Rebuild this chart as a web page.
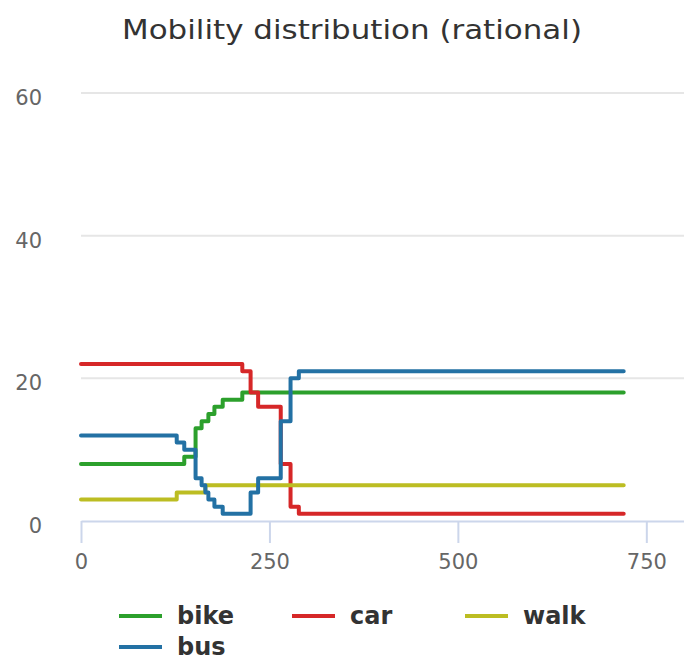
<!DOCTYPE html>
<html>
<head>
<meta charset="utf-8">
<script src="https://cdn.jsdelivr.net/npm/d3@7"></script>
<style>
  body { margin: 0; background: #fff; }
  svg { display: block; font-family: "DejaVu Sans", sans-serif; }
</style>
</head>
<body>
<div class="display"></div>
<script>
// series, drawn in this order (bus ends up on top)
const seriesNames = ["bike", "car", "walk", "bus"];
const seriesColors = ["#2ca02c", "#d62728", "#bcbd22", "#2371a4"];

// step points: time where the count changes, and the new count
const bikeTime = [0, 137, 152, 160, 169, 177, 188, 214, 720];
const bikeCount = [8, 9, 13, 14, 15, 16, 17, 18, 18];
const carTime = [0, 214, 225, 235, 265, 278, 289, 720];
const carCount = [22, 21, 18, 16, 8, 2, 1, 1];
const walkTime = [0, 127, 165, 720];
const walkCount = [3, 4, 5, 5];
const busTime = [0, 127, 137, 152, 160, 165, 169, 177, 188, 225, 235, 265, 278, 289, 720];
const busCount = [12, 11, 10, 6, 5, 4, 3, 2, 1, 4, 6, 14, 20, 21, 21];

const xTicks = [0, 250, 500, 750];
const yTicks = [0, 20, 40, 60];
const title = "Mobility distribution (rational)";

class StepChart {
  constructor(series) {
    this.series = series;
    this.sizes = {
      width: 684,
      height: 655,
      margin: { top: 93, right: 0, bottom: 134, left: 81 }
    };
    this.render();
  }

  render() {
    this.drawCanvas()
      .createScale()
      .addGrid()
      .addAxis()
      .addLines()
      .addTitle()
      .addLegend();
  }

  drawCanvas() {
    const { width, height } = this.sizes;
    this.svg = d3
      .select(".display")
      .append("svg")
      .attr("width", width)
      .attr("height", height);
    return this;
  }

  createScale() {
    const { width, height, margin } = this.sizes;
    this.xScale = d3
      .scaleLinear()
      .domain([0, 800])
      .range([margin.left, width - margin.right]);
    this.yScale = d3
      .scaleLinear()
      .domain([0, 60])
      .range([height - margin.bottom, margin.top]);
    return this;
  }

  addGrid() {
    const { width, margin } = this.sizes;
    this.svg
      .append("g")
      .attr("class", "grid")
      .selectAll("line")
      .data(yTicks.filter(d => d > 0))
      .join("line")
      .attr("x1", margin.left)
      .attr("x2", width)
      .attr("y1", d => this.yScale(d))
      .attr("y2", d => this.yScale(d))
      .attr("stroke", "#e6e6e6")
      .attr("stroke-width", 2);
    return this;
  }

  addAxis() {
    const { height, margin } = this.sizes;
    const xAxis = d3
      .axisBottom(this.xScale)
      .tickValues(xTicks)
      .tickSize(22)
      .tickSizeOuter(0)
      .tickPadding(11);

    const xg = this.svg
      .append("g")
      .attr("id", "x-axis")
      .attr("transform", `translate(0, ${height - margin.bottom})`)
      .call(xAxis);
    xg.selectAll("path, line").attr("stroke", "#ccd6eb").attr("stroke-width", 2);
    xg.selectAll("text")
      .attr("fill", "#666")
      .style("font-size", "21px")
      .style("font-family", "DejaVu Sans, sans-serif");

    // y labels only, no axis line
    this.svg
      .append("g")
      .attr("id", "y-axis")
      .selectAll("text")
      .data(yTicks)
      .join("text")
      .attr("x", 42)
      .attr("y", d => this.yScale(d) + 6)
      .attr("text-anchor", "end")
      .attr("dominant-baseline", "middle")
      .attr("fill", "#666")
      .style("font-size", "21px")
      .text(d => d);
    return this;
  }

  addLines() {
    const line = d3
      .line()
      .curve(d3.curveStepAfter)
      .x(d => this.xScale(d.t))
      .y(d => this.yScale(d.v));

    this.svg
      .append("g")
      .attr("class", "lines")
      .selectAll("path")
      .data(this.series)
      .join("path")
      .attr("d", s => line(s.values))
      .attr("fill", "none")
      .attr("stroke", s => s.color)
      .attr("stroke-width", 4)
      .attr("stroke-linejoin", "round")
      .attr("stroke-linecap", "round");
    return this;
  }

  addTitle() {
    this.svg
      .append("text")
      .attr("x", 352)
      .attr("y", 39)
      .attr("text-anchor", "middle")
      .attr("fill", "#333")
      .attr("textLength", 460)
      .attr("lengthAdjust", "spacingAndGlyphs")
      .style("font-size", "26px")
      .text(title);
    return this;
  }

  addLegend() {
    const legend = this.svg
      .append("g")
      .attr("id", "legend")
      .attr("transform", "translate(119, 616)");

    const items = legend
      .selectAll(".legend-item")
      .data(this.series)
      .join("g")
      .attr("class", "legend-item")
      .attr("transform", (d, i) => `translate(${(i % 3) * 173}, ${Math.floor(i / 3) * 31})`);

    items
      .append("line")
      .attr("x1", 0)
      .attr("x2", 43)
      .attr("stroke", d => d.color)
      .attr("stroke-width", 4);

    items
      .append("text")
      .attr("x", 58)
      .attr("y", 8)
      .attr("fill", "#333")
      .style("font-size", "24px")
      .style("font-weight", "bold")
      .text(d => d.name);
    return this;
  }
}

const times = [bikeTime, carTime, walkTime, busTime];
const counts = [bikeCount, carCount, walkCount, busCount];
const series = seriesNames.map((name, i) => ({
  name,
  color: seriesColors[i],
  values: times[i].map((t, j) => ({ t, v: counts[i][j] }))
}));

new StepChart(series);
</script>
</body>
</html>
